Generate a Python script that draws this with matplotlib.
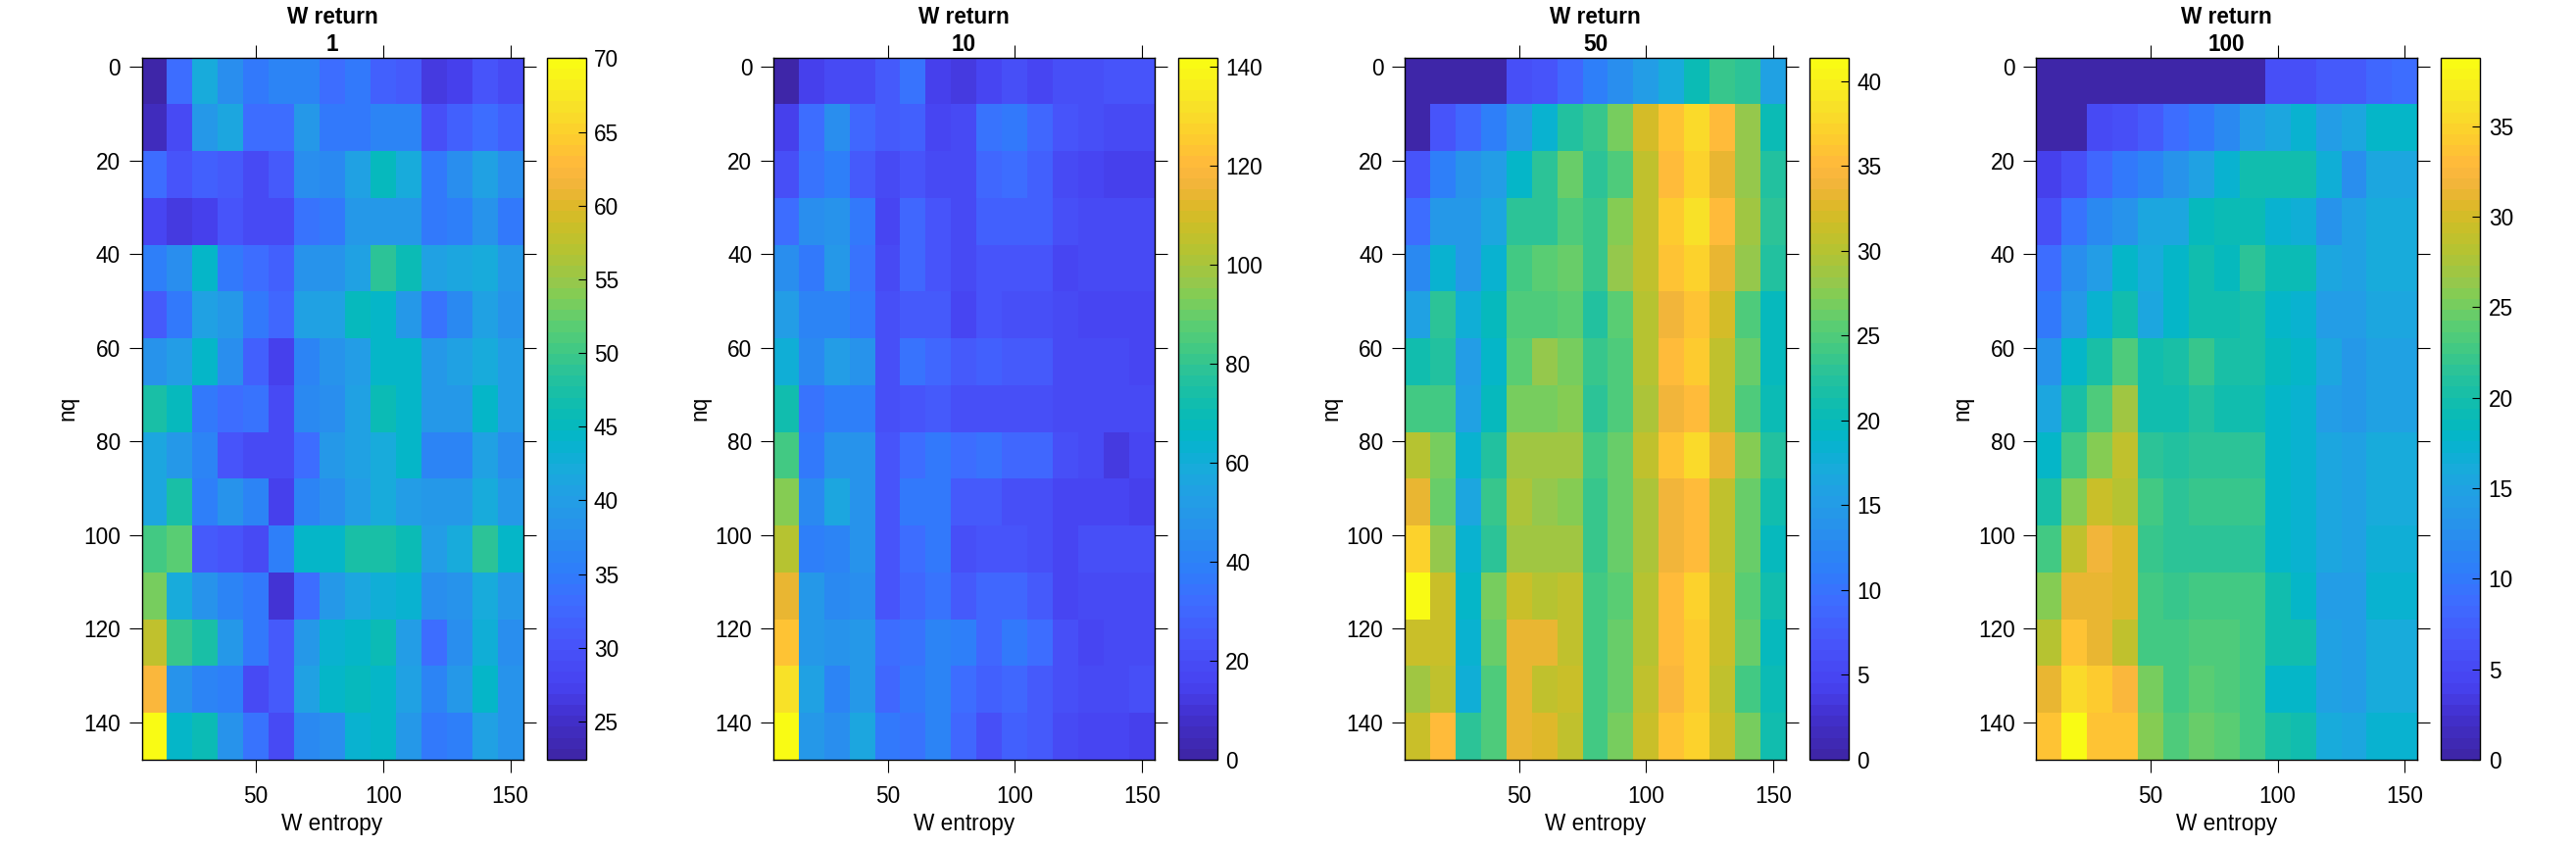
# Four W return heatmaps, nq against W entropy

import numpy as np
import matplotlib
matplotlib.use("Agg")
import matplotlib.pyplot as plt
from matplotlib.colors import LinearSegmentedColormap, Normalize

plt.rcParams['font.family'] = ['Liberation Sans', 'DejaVu Sans']

w_entropy = [10, 20, 30, 40, 50, 60, 70, 80, 90, 100, 110, 120, 130, 140, 150]
nq = [3, 13, 23, 33, 43, 53, 63, 73, 83, 93, 103, 113, 123, 133, 143]

return_1 = [
    [23, 33.5, 42, 37.5, 34.5, 36, 36, 33.5, 35, 32, 31, 26.5, 27.5, 30, 29],
    [24, 29, 39, 41.5, 33, 33, 39.5, 34.5, 35, 36, 36, 29.5, 32, 33.5, 32],
    [33.5, 30, 32, 31, 28.5, 31, 38, 37, 41, 45, 42, 35, 38, 41, 37.5],
    [28, 26.5, 27, 30, 29, 29, 34, 34.5, 39, 39.5, 39.5, 34.5, 35.5, 38.5, 34.5],
    [35.5, 38, 44, 35, 33.5, 31.5, 38.5, 38.5, 41, 49, 46, 41, 41.5, 42, 39],
    [31, 34.5, 41, 39, 35, 32.5, 41, 41, 45, 44.5, 39.5, 34, 37, 40.5, 38.5],
    [38.5, 40, 44, 37.5, 32, 27, 36.5, 38.5, 40, 44, 44.5, 39.5, 40.5, 42.5, 40],
    [47.5, 45, 35, 33, 34, 29, 37, 37.5, 41, 46, 44.5, 39.5, 39.5, 44.5, 40],
    [41.5, 39, 36.5, 30.5, 29, 29, 33, 39.5, 40.5, 42, 44.5, 36.5, 36, 40.5, 38],
    [41.5, 47, 35.5, 38.5, 36.5, 27.5, 36, 38, 40, 42.5, 40, 39, 39.5, 42.5, 39],
    [50, 52, 31, 30, 29, 35.5, 44.5, 44, 47.5, 47.5, 46, 40, 42.5, 48.5, 44],
    [53.5, 42, 38.5, 36, 34.5, 25.5, 33, 39, 41.5, 43, 43.5, 38, 38.5, 42.5, 39],
    [57.5, 49.5, 47, 39, 34.5, 31, 39.5, 43.5, 44.5, 45.5, 40, 33.5, 37.5, 43, 38],
    [62, 38.5, 36, 35.5, 29, 31, 41, 44.5, 45, 44.5, 41, 36, 39, 44.5, 38.5],
    [70, 44, 46, 38.5, 34, 29, 37, 38, 43.5, 44, 39.5, 34.5, 35.5, 40.5, 38.5],
]

return_10 = [
    [1, 15, 19, 18, 25, 35, 15, 13, 17, 22, 17, 22, 22, 23, 23],
    [14, 33, 46, 29, 26, 28, 16, 19, 35, 36, 30, 24, 22, 18, 18],
    [21, 34, 38, 26, 19, 23, 18, 19, 31, 33, 27, 19, 17, 15, 15],
    [33, 45, 47, 36, 16, 30, 23, 19, 27, 27, 27, 20, 18, 18, 18],
    [46, 37, 49, 35, 19, 30, 24, 19, 23, 23, 24, 17, 18, 18, 18],
    [53, 41, 42, 37, 20, 25, 25, 16, 24, 22, 22, 19, 17, 17, 17],
    [62, 43, 53, 47, 22, 35, 31, 26, 27, 25, 25, 19, 19, 19, 17],
    [71, 34, 38, 38, 20, 23, 26, 20, 20, 20, 20, 19, 19, 19, 19],
    [83, 36, 48, 47, 23, 33, 36, 33, 35, 31, 31, 20, 18, 13, 16],
    [95, 44, 56, 48, 23, 36, 36, 25, 25, 22, 22, 16, 16, 16, 14],
    [103, 38, 41, 47, 24, 33, 36, 22, 23, 23, 22, 17, 20, 20, 20],
    [114, 49, 43, 45, 24, 29, 34, 26, 29, 29, 25, 17, 18, 19, 19],
    [123, 49, 48, 49, 32, 34, 41, 39, 31, 36, 33, 22, 17, 19, 19],
    [133, 54, 42, 50, 31, 36, 42, 33, 28, 31, 26, 22, 19, 19, 20],
    [142, 50, 46, 56, 36, 34, 41, 31, 22, 28, 25, 18, 16, 16, 15],
]

return_50 = [
    [0, 0, 0, 0, 6, 7, 9, 11, 13, 15, 17, 20.5, 23.5, 23, 16],
    [0.5, 7, 9, 11.5, 14.5, 18.5, 22.5, 23.5, 27, 32, 36, 38, 35, 28, 20.5],
    [7, 11, 14, 15, 19, 23, 26.5, 23, 25, 30.5, 35, 37, 33.5, 28, 22],
    [9.5, 14.5, 14.5, 16.5, 23, 23, 25, 23.5, 27.5, 31, 36.5, 38.5, 35.5, 29, 23],
    [12.5, 18.5, 14.5, 18.5, 24.5, 25.5, 26.5, 23.5, 28, 31, 36, 37.5, 33.5, 28, 22.5],
    [16, 23, 18, 20, 25, 25, 25.5, 22.5, 25.5, 30, 34, 36, 32, 25, 20],
    [21, 22.5, 15, 19, 25.5, 28, 27, 23.5, 25, 30, 35, 36.5, 31, 26, 19.5],
    [24.5, 24.5, 16, 20, 27, 27, 27.5, 23, 25, 29.5, 34, 35, 30.5, 25, 20.5],
    [30, 27, 18.5, 22.5, 28.5, 28.5, 28.5, 24, 26.5, 31, 36, 38, 33, 27.5, 22],
    [33, 26, 16.5, 23.5, 29.5, 28, 27.5, 23.5, 26.5, 29.5, 34, 35.5, 31, 26, 21],
    [37, 28, 18.5, 23, 28.5, 28.5, 28.5, 23.5, 26, 29.5, 34, 35.5, 31, 26, 19.5],
    [41.5, 31.5, 19, 27, 31.5, 30, 31, 24.5, 25.5, 30, 35, 37, 31.5, 25.5, 21],
    [31.5, 31.5, 18.5, 26.5, 33.5, 33, 31, 24, 26, 30, 35, 36.5, 31.5, 26, 20],
    [29, 30.5, 18, 25, 33, 30.5, 31.5, 24.5, 26.5, 31, 34.5, 36.5, 31, 24.5, 20.5],
    [31.5, 35, 23, 25, 33, 32.5, 30.5, 24, 27, 31.5, 36, 37.5, 31.5, 27, 21],
]

return_100 = [
    [0, 0, 0, 0, 0, 0, 0, 0, 0, 5.5, 6, 7, 7, 8, 8.5],
    [0, 0, 5, 6, 7, 9, 10, 12, 14, 15.5, 17.5, 14.5, 15.5, 18, 18],
    [4, 6, 8, 10, 11, 13, 15, 17, 19.5, 19.5, 19.5, 16.5, 12.5, 15.5, 15.5],
    [6, 9.5, 12, 13, 15.5, 15.5, 18.5, 19, 19, 17, 16.5, 13, 15, 16, 16],
    [9, 12.5, 14, 18, 16, 18, 20, 18.5, 21.5, 19, 19, 15.5, 15, 16, 16],
    [10, 13.5, 17, 20, 15.5, 18, 20, 20, 20.5, 18, 17.5, 14, 14, 15.5, 15.5],
    [13, 18, 20.5, 23.5, 20, 20.5, 22, 20.5, 20.5, 18.5, 18, 15.5, 13.5, 15, 15],
    [15.5, 20.5, 23.5, 27, 20, 20, 21, 20, 20, 18, 17.5, 14.5, 13.5, 15, 15],
    [18, 23, 26, 29, 21.5, 21, 21.5, 21.5, 21.5, 18, 17.5, 15.5, 15, 16, 16],
    [20.5, 25.5, 29.5, 28, 23, 21.5, 22, 22, 22, 18, 17.5, 15.5, 15, 16, 16],
    [23, 29, 32, 30.5, 22, 21.5, 21.5, 21.5, 21.5, 18, 17.5, 15.5, 15, 16.5, 16.5],
    [26, 31, 31, 30.5, 23, 22, 23, 22.5, 22.5, 19.5, 18, 14.5, 14.5, 17, 17],
    [28, 33.5, 31, 29, 23, 23, 23.5, 23.5, 22.5, 19.5, 19.5, 15, 14.5, 16, 16],
    [31, 35.5, 34.5, 32.5, 25, 23, 24, 23.5, 22.5, 18, 18, 15, 14.5, 16, 16],
    [33.5, 39, 33.5, 33.5, 25.5, 23.5, 24.5, 24, 23, 20.5, 19.5, 16, 15.5, 17.5, 17.5],
]

panel_titles = ["1", "10", "50", "100"]
panel_grids = [return_1, return_10, return_50, return_100]
panel_ranges = [(22.4, 70.05), (0, 141.9), (0, 41.4), (0, 38.8)]
panel_ticks = [
    [25, 30, 35, 40, 45, 50, 55, 60, 65, 70],
    [0, 20, 40, 60, 80, 100, 120, 140],
    [0, 5, 10, 15, 20, 25, 30, 35, 40],
    [0, 5, 10, 15, 20, 25, 30, 35],
]
panel_left = [144.5, 788.8, 1433, 2077.3]  # pixels

# palette
key_stops = [0, 0.055, 0.10, 0.16, 0.22, 0.264, 0.33, 0.37, 0.41, 0.453, 0.474, 0.516, 0.558,
             0.579, 0.62, 0.663, 0.684, 0.726, 0.768, 0.789, 0.83, 0.852, 0.894, 0.936, 1]
key_colors = [(62, 38, 168), (66, 48, 205), (71, 66, 240), (71, 84, 250), (62, 108, 255), (47, 125, 250),
              (39, 146, 235), (35, 158, 229), (25, 170, 220), (5, 180, 205), (5, 185, 190),
              (20, 190, 170), (45, 195, 150), (60, 200, 135), (90, 205, 115), (130, 205, 85),
              (150, 200, 75), (180, 195, 50), (205, 190, 40), (220, 185, 40), (245, 180, 60),
              (255, 185, 60), (253, 205, 45), (248, 225, 40), (249, 251, 20)]
parula = LinearSegmentedColormap.from_list(
    "parula", [(s, tuple(c / 255 for c in rgb)) for s, rgb in zip(key_stops, key_colors)], N=64)

W, H = 2628, 864
AX_TOP, AX_BOTTOM = 58.7, 775
AX_W = 389
CB_GAP, CB_W = 24, 40
FS = 16.3


def px_axes(fig, left, width):
    return fig.add_axes([left / W, 1 - AX_BOTTOM / H, width / W, (AX_BOTTOM - AX_TOP) / H])


def main():
    fig = plt.figure(figsize=(W / 100, H / 100), dpi=100)
    edges_x = np.arange(5, 156, 10)
    edges_y = np.arange(-2, 149, 10)

    for i in range(4):
        ax = px_axes(fig, panel_left[i], AX_W)
        norm = Normalize(*panel_ranges[i])
        mesh = ax.pcolormesh(edges_x, edges_y, np.array(panel_grids[i]), cmap=parula, norm=norm)
        ax.set_xlim(5, 155)
        ax.set_ylim(148, -2)
        ax.set_xticks([50, 100, 150])
        ax.set_yticks(np.arange(0, 141, 20))
        ax.tick_params(top=True, right=True, length=9.5, width=0.8, labelsize=FS, pad=6)
        ax.tick_params(axis='x', pad=9.5)
        for s in ax.spines.values():
            s.set_linewidth(1.0)
        ax.set_xlabel("W entropy", fontsize=FS, labelpad=3.5)
        ax.set_ylabel("nq", fontsize=FS, labelpad=3)
        ax.set_title("W return\n" + panel_titles[i], fontsize=FS, fontweight='bold', pad=5, linespacing=1.25)

        cax = px_axes(fig, panel_left[i] + AX_W + CB_GAP, CB_W)
        cb = fig.colorbar(mesh, cax=cax)
        cb.set_ticks(panel_ticks[i])
        cb.ax.tick_params(direction='in', length=5.5, width=0.8, labelsize=FS, pad=6, right=True, left=False)
        cb.outline.set_linewidth(1.0)

    fig.savefig("out.png", dpi=100)


if __name__ == "__main__":
    main()
